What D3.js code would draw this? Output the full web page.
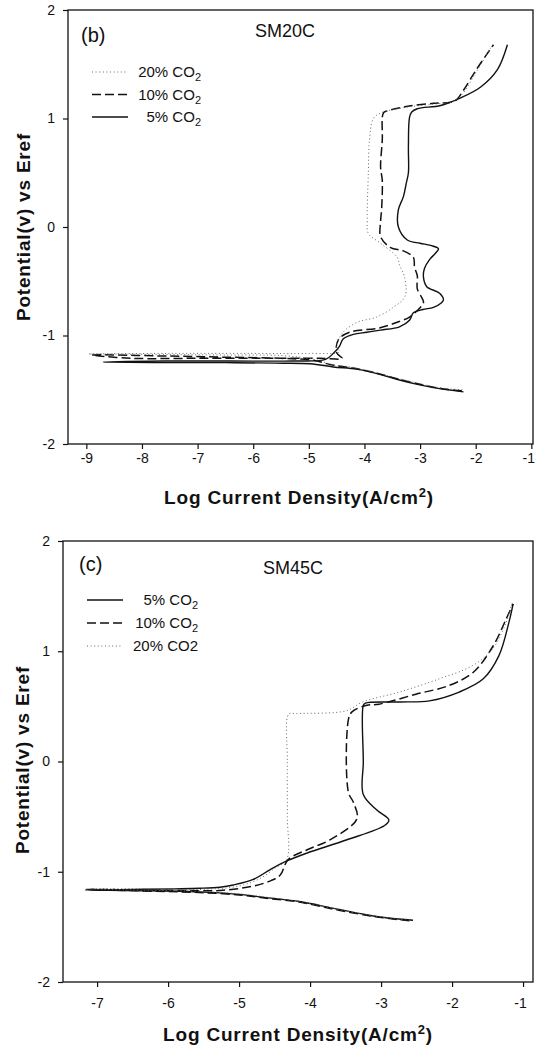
<!DOCTYPE html>
<html><head><meta charset="utf-8">
<script src="https://cdn.jsdelivr.net/npm/d3@7"></script>
<style>
html,body{margin:0;padding:0;background:#fff;}
svg{display:block;font-family:"Liberation Sans",Arial,Helvetica,sans-serif;}
</style></head>
<body>
<svg id="chart" width="536" height="1052"></svg>
<script>
// ---------- DATA ----------
// Panel (b) SM20C
const bTicksX = [-9,-8,-7,-6,-5,-4,-3,-2,-1];
const bTicksY = [-2,-1,0,1,2];
const bLegend = ["20% CO", "10% CO", "5% CO"];
const bLegendSub = [true, true, true];

const b20X = [-2.24,-2.6,-3.0,-3.4,-3.8,-4.2,-4.6,-4.9,-5.5,-6.5,-7.5,-8.96,-7.5,-6.0,-5.0,-4.45,-4.5,-4.4,-4.14,-3.78,-3.48,-3.27,-3.28,-3.37,-3.41,-3.71,-3.93,-3.95,-3.93,-3.91,-3.84,-3.71,-3.3,-2.8,-2.4,-2.25,-2.0,-1.72];
const b20Y = [-1.50,-1.485,-1.445,-1.395,-1.34,-1.295,-1.265,-1.22,-1.185,-1.18,-1.175,-1.17,-1.165,-1.165,-1.165,-1.15,-1.10,-0.98,-0.88,-0.83,-0.74,-0.64,-0.46,-0.35,-0.28,-0.15,-0.06,0.06,0.50,0.80,1.00,1.05,1.10,1.13,1.16,1.22,1.42,1.66];

const b10X = [-2.25,-2.6,-3.0,-3.4,-3.8,-4.2,-4.6,-4.9,-5.5,-6.5,-7.5,-8.9,-8.2,-7.0,-5.8,-4.8,-4.4,-4.5,-4.47,-4.27,-3.73,-3.37,-3.19,-2.94,-2.96,-3.05,-3.05,-3.10,-3.12,-3.3,-3.53,-3.71,-3.71,-3.69,-3.68,-3.71,-3.68,-3.66,-3.59,-3.25,-2.76,-2.45,-2.35,-2.22,-1.99,-1.68];
const b10Y = [-1.51,-1.49,-1.45,-1.40,-1.345,-1.30,-1.27,-1.23,-1.21,-1.20,-1.19,-1.18,-1.21,-1.21,-1.21,-1.21,-1.21,-1.16,-1.04,-0.97,-0.93,-0.87,-0.83,-0.70,-0.66,-0.57,-0.45,-0.37,-0.28,-0.22,-0.19,-0.09,0.05,0.18,0.43,0.55,0.80,1.05,1.07,1.11,1.14,1.15,1.17,1.26,1.45,1.68];

const b5X = [-2.22,-2.5,-2.76,-3.05,-3.37,-3.71,-4.14,-4.56,-4.97,-5.6,-6.5,-7.5,-8.7,-7.6,-6.4,-5.3,-4.7,-4.55,-4.45,-4.38,-4.2,-3.96,-3.71,-3.37,-3.19,-3.12,-2.95,-2.76,-2.62,-2.58,-2.65,-2.88,-2.94,-2.92,-2.83,-2.72,-2.67,-2.81,-3.0,-3.23,-3.39,-3.39,-3.30,-3.25,-3.21,-3.21,-3.19,-3.15,-3.05,-2.63,-2.27,-1.91,-1.61,-1.43];
const b5Y = [-1.52,-1.50,-1.48,-1.45,-1.41,-1.36,-1.31,-1.29,-1.26,-1.255,-1.25,-1.25,-1.245,-1.235,-1.235,-1.235,-1.22,-1.16,-1.10,-1.03,-0.99,-0.97,-0.95,-0.92,-0.86,-0.79,-0.76,-0.74,-0.70,-0.67,-0.61,-0.55,-0.46,-0.38,-0.30,-0.24,-0.20,-0.17,-0.15,-0.12,0.0,0.16,0.28,0.40,0.50,0.74,1.01,1.06,1.09,1.12,1.19,1.29,1.45,1.68];

// Panel (c) SM45C
const cTicksX = [-7,-6,-5,-4,-3,-2,-1];
const cTicksY = [-2,-1,0,1,2];
const cLegend = ["5% CO", "10% CO", "20% CO2"];
const cLegendSub = [true, true, false];

const c5X = [-2.55,-2.9,-3.21,-3.68,-4.15,-4.62,-5.0,-5.5,-6.0,-6.6,-7.17,-6.5,-5.9,-5.55,-5.27,-5.08,-4.80,-4.56,-4.32,-4.04,-3.48,-2.95,-2.89,-3.06,-3.25,-3.25,-3.25,-3.22,-2.73,-2.32,-1.90,-1.56,-1.34,-1.20,-1.14];
const c5Y = [-1.44,-1.42,-1.39,-1.33,-1.27,-1.235,-1.205,-1.185,-1.175,-1.17,-1.165,-1.16,-1.155,-1.15,-1.14,-1.12,-1.07,-0.98,-0.90,-0.83,-0.71,-0.58,-0.53,-0.44,-0.30,0.0,0.51,0.53,0.54,0.55,0.63,0.75,0.96,1.26,1.43];

const c10X = [-2.6,-3.0,-3.3,-3.7,-4.15,-4.62,-5.0,-5.5,-6.0,-6.6,-7.15,-6.4,-5.8,-5.27,-4.80,-4.55,-4.42,-4.31,-4.04,-3.72,-3.34,-3.39,-3.46,-3.46,-3.41,-3.20,-3.03,-2.51,-2.04,-1.70,-1.42,-1.24,-1.14];
const c10Y = [-1.445,-1.415,-1.385,-1.335,-1.275,-1.24,-1.21,-1.19,-1.18,-1.17,-1.16,-1.165,-1.17,-1.17,-1.13,-1.08,-1.03,-0.89,-0.80,-0.71,-0.52,-0.37,-0.28,0.38,0.45,0.51,0.52,0.61,0.69,0.81,1.05,1.29,1.43];

const c20X = [-2.6,-3.0,-3.3,-3.7,-4.15,-4.62,-5.0,-5.5,-6.0,-6.6,-7.15,-6.4,-5.8,-5.5,-5.0,-4.7,-4.5,-4.33,-4.32,-4.32,-4.30,-4.2,-3.49,-3.26,-2.74,-2.18,-1.71,-1.43,-1.24,-1.15];
const c20Y = [-1.44,-1.41,-1.38,-1.33,-1.27,-1.23,-1.2,-1.18,-1.17,-1.165,-1.155,-1.155,-1.16,-1.16,-1.13,-1.06,-0.97,-0.89,-0.5,0.0,0.43,0.435,0.46,0.54,0.63,0.75,0.87,1.02,1.26,1.45];

// ---------- DRAWING ----------
const svg = d3.select("#chart");
const styles = {
  solid:  {dash: null,  width: 1.4, color: "#111"},
  dashed: {dash: "9,4", width: 1.5, color: "#111"},
  dotted: {dash: "1,2.6", width: 1.0, color: "#666"}
};

function panel(cfg) {
  const x = d3.scaleLinear().domain(cfg.xDomain).range([cfg.left, cfg.right]);
  const y = d3.scaleLinear().domain([-2, 2]).range([cfg.bottom, cfg.top]);
  const g = svg.append("g");

  // curves
  const line = d3.line().x(d => x(d[0])).y(d => y(d[1])).curve(d3.curveCatmullRom.alpha(0.5));
  cfg.series.forEach(s => {
    const pts = s.xs.map((v, i) => [v, s.ys[i]]);
    const st = styles[s.style];
    g.append("path").attr("d", line(pts)).attr("fill", "none")
      .attr("stroke", st.color).attr("stroke-width", st.width)
      .attr("stroke-dasharray", st.dash).attr("stroke-linejoin", "round");
  });

  // frame
  g.append("rect").attr("x", cfg.left).attr("y", cfg.top)
    .attr("width", cfg.right - cfg.left).attr("height", cfg.bottom - cfg.top)
    .attr("fill", "none").attr("stroke", "#111").attr("stroke-width", 1.3);

  // axes
  const xa = g.append("g").attr("transform", `translate(0,${cfg.bottom})`)
    .call(d3.axisBottom(x).tickValues(cfg.ticksX).tickFormat(d => String(d))
      .tickSize(5).tickPadding(cfg.xPad));
  const ya = g.append("g").attr("transform", `translate(${cfg.left},0)`)
    .call(d3.axisLeft(y).tickValues(cfg.ticksY).tickFormat(d => String(d))
      .tickSize(5).tickPadding(8));
  [xa, ya].forEach(a => {
    a.select(".domain").remove();
    a.selectAll("line").attr("stroke", "#111").attr("stroke-width", 1.2);
    a.selectAll("text").attr("font-size", 14).attr("fill", "#111")
      .attr("font-family", "'Liberation Sans',Arial,sans-serif");
  });
  // keep the last x label inside the page
  xa.selectAll(".tick text").filter(d => d === -1).attr("dx", -3);

  // panel letter and title
  g.append("text").attr("x", cfg.letterX).attr("y", cfg.letterY)
    .attr("font-size", 20).attr("fill", "#111").text(cfg.letter);
  g.append("text").attr("x", cfg.titleX).attr("y", cfg.titleY)
    .attr("font-size", 18).attr("fill", "#111").text(cfg.title);

  // legend
  cfg.legendStyles.forEach((stName, i) => {
    const st = styles[stName];
    const ly = cfg.legendY0 + i * cfg.legendStep;
    g.append("line").attr("x1", cfg.legendX1).attr("x2", cfg.legendX2)
      .attr("y1", ly).attr("y2", ly).attr("stroke", st.color)
      .attr("stroke-width", st.width).attr("stroke-dasharray", st.dash);
    const t = g.append("text").attr("x", cfg.legendTextRight).attr("y", ly + 5)
      .attr("text-anchor", "end").attr("font-size", 15).attr("fill", "#111");
    t.append("tspan").text(cfg.legend[i]);
    if (cfg.legendSub[i]) {
      t.append("tspan").attr("font-size", 11).attr("dy", 4).text("2");
    }
  });

  // axis titles
  const xt = g.append("text").attr("x", cfg.xTitleX).attr("y", cfg.xTitleY)
    .attr("text-anchor", "middle").attr("font-size", 19).attr("font-weight", "bold")
    .attr("letter-spacing", 0.8).attr("fill", "#111");
  xt.append("tspan").text("Log Current Density(A/cm");
  xt.append("tspan").attr("font-size", 13).attr("dy", -7).text("2");
  xt.append("tspan").attr("dy", 7).text(")");

  g.append("text").attr("transform", `translate(${cfg.yTitleX},${cfg.yTitleY}) rotate(-90)`)
    .attr("text-anchor", "middle").attr("font-size", 19).attr("font-weight", "bold")
    .attr("letter-spacing", 0.8).attr("fill", "#111").text("Potential(v) vs Eref");
}

panel({
  left: 68, right: 533, top: 10, bottom: 444,
  xDomain: [-9.33, -0.97], ticksX: bTicksX, ticksY: bTicksY, xPad: 4,
  series: [
    {xs: b5X, ys: b5Y, style: "solid"},
    {xs: b10X, ys: b10Y, style: "dashed"},
    {xs: b20X, ys: b20Y, style: "dotted"}
  ],
  letter: "(b)", letterX: 81, letterY: 42,
  title: "SM20C", titleX: 255, titleY: 37,
  legend: bLegend, legendSub: bLegendSub, legendStyles: ["dotted", "dashed", "solid"],
  legendY0: 72, legendStep: 22.5, legendX1: 92, legendX2: 128, legendTextRight: 201,
  xTitleX: 299, xTitleY: 504, yTitleX: 30, yTitleY: 227
});

panel({
  left: 63, right: 533, top: 541, bottom: 982,
  xDomain: [-7.48, -0.86], ticksX: cTicksX, ticksY: cTicksY, xPad: 11,
  series: [
    {xs: c5X, ys: c5Y, style: "solid"},
    {xs: c10X, ys: c10Y, style: "dashed"},
    {xs: c20X, ys: c20Y, style: "dotted"}
  ],
  letter: "(c)", letterX: 79, letterY: 571,
  title: "SM45C", titleX: 263, titleY: 574,
  legend: cLegend, legendSub: cLegendSub, legendStyles: ["solid", "dashed", "dotted"],
  legendY0: 600, legendStep: 23, legendX1: 87, legendX2: 123, legendTextRight: 198,
  xTitleX: 298, xTitleY: 1041, yTitleX: 29, yTitleY: 760
});
</script>
</body></html>
